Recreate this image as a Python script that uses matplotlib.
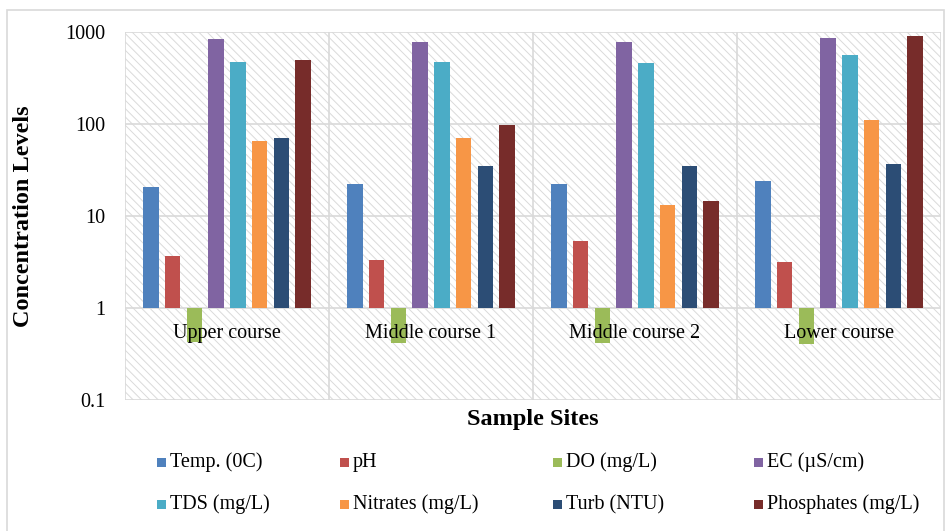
import matplotlib
matplotlib.use("Agg")
import matplotlib.pyplot as plt
import matplotlib.patches as mpatches
import numpy as np

sites = ["Upper course", "Middle course 1", "Middle course 2", "Lower course"]
series_names = ["Temp. (0C)", "pH", "DO (mg/L)", "EC (µS/cm)",
                "TDS (mg/L)", "Nitrates (mg/L)", "Turb (NTU)", "Phosphates (mg/L)"]
temp = [20.7, 22.3, 22.3, 24.0]
ph = [3.7, 3.3, 5.4, 3.2]
do = [0.43, 0.42, 0.42, 0.41]
ec = [835, 785, 785, 850]
tds = [470, 475, 457, 558]
nitrates = [65, 70, 13.1, 111]
turb = [70, 35, 35, 36.5]
phosphates = [500, 98, 14.7, 915]
colors = ["#4F81BD", "#C0504D", "#9BBB59", "#8064A2",
          "#4BACC6", "#F79646", "#2C4D75", "#772C2A"]
yticks = [0.1, 1, 10, 100, 1000]
ytick_labels = ["0.1", "1", "10", "100", "1000"]

series = [temp, ph, do, ec, tds, nitrates, turb, phosphates]

plt.rcParams['font.family'] = ['Liberation Serif', 'DejaVu Serif']
plt.rcParams['hatch.linewidth'] = 0.7

fig = plt.figure(figsize=(9.51, 5.31), dpi=100)
# outer chart border
fig.patches.append(mpatches.Rectangle((7/951, -0.01), (944-7)/951, 1 - 10/531 + 0.01,
                                      transform=fig.transFigure, facecolor='white',
                                      edgecolor='#d9d9d9', lw=1.2, zorder=-10))
ax = fig.add_axes([125/951, 1 - 400/531, (941-125)/951, (400-32)/531])
ax.set_yscale('log')
ax.set_ylim(0.1, 1000)
ax.set_xlim(-0.5, len(sites) - 0.5)

# hatched background
ax.patch.set_facecolor('white')
bg = mpatches.Rectangle((0, 0), 1, 1, transform=ax.transAxes, facecolor='white',
                        edgecolor='#dadada', hatch='\\\\\\\\', lw=0, zorder=0)
ax.add_patch(bg)

x = np.arange(len(sites))
step = 0.1064
width = 0.075
for i, (vals, c) in enumerate(zip(series, colors)):
    offs = (i - 3.5) * step
    v = np.array(vals)
    ax.bar(x + offs, v - 1, bottom=1, width=width, color=c, label=series_names[i],
           zorder=3, linewidth=0)

# gridlines
for yv in yticks:
    ax.axhline(yv, color='#d9d9d9', lw=1.2, zorder=1)
for b in np.arange(len(sites) + 1) - 0.5:
    ax.axvline(b, color='#d9d9d9', lw=1.2, zorder=1)

for s in ax.spines.values():
    s.set_visible(False)

ax.set_yticks(yticks)
ax.set_yticklabels(ytick_labels, fontsize=14.5)
ax.yaxis.set_minor_locator(matplotlib.ticker.NullLocator())
ax.tick_params(axis='y', length=0, pad=14)
ax.set_xticks([])

# category labels just below baseline
for xi, name in zip(x, sites):
    ax.text(xi, 0.53, name, ha='center', va='center', fontsize=14.5, zorder=5)

fig.text(533/951, 1 - 420/531, "Sample Sites", ha='center', va='center',
         fontsize=17.5, fontweight='bold')
fig.text(24/951, 1 - 216/531, "Concentration Levels", ha='center', va='center',
         fontsize=17.5, fontweight='bold', rotation=90)

handles, labels = ax.get_legend_handles_labels()
colx = [157, 340, 553, 754]
rowy = [462, 504]
for i, (h, l) in enumerate(zip(handles, labels)):
    r, cidx = divmod(i, 4)
    fx = colx[cidx] / 951
    fy = 1 - rowy[r] / 531
    fig.patches.append(mpatches.Rectangle((fx, fy - 4.5/531), 9/951, 9/531,
                                          transform=fig.transFigure,
                                          facecolor=colors[i], lw=0))
    fig.text(fx + 13/951, fy - 5/531, l, ha='left', va='baseline', fontsize=14.5)

fig.savefig("out.png", dpi=100)
